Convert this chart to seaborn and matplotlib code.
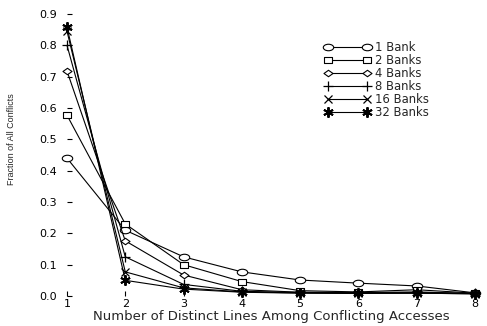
import matplotlib
matplotlib.use("Agg")
import matplotlib.pyplot as plt
from matplotlib.path import Path
from matplotlib.transforms import Affine2D
import seaborn as sns
import pandas as pd

# Distinct lines among conflicting accesses
lines = [1, 2, 3, 4, 5, 6, 7, 8]

bank_1 = [0.440, 0.210, 0.125, 0.077, 0.051, 0.041, 0.032, 0.010]
bank_2 = [0.577, 0.230, 0.100, 0.046, 0.017, 0.013, 0.020, 0.009]
bank_4 = [0.718, 0.176, 0.067, 0.020, 0.012, 0.011, 0.013, 0.008]
bank_8 = [0.800, 0.125, 0.037, 0.015, 0.011, 0.010, 0.011, 0.008]
bank_16 = [0.845, 0.077, 0.026, 0.013, 0.010, 0.009, 0.009, 0.007]
bank_32 = [0.858, 0.050, 0.022, 0.012, 0.009, 0.008, 0.009, 0.007]

labels = ["1 Bank", "2 Banks", "4 Banks", "8 Banks", "16 Banks", "32 Banks"]
series = [bank_1, bank_2, bank_4, bank_8, bank_16, bank_32]

y_ticks = [0.0, 0.1, 0.2, 0.3, 0.4, 0.5, 0.6, 0.7, 0.8, 0.9]

# Wide (flattened) open markers
ellipse = Path.unit_circle().transformed(Affine2D().scale(1.6, 1.0))
rect = Path.unit_rectangle().transformed(Affine2D().translate(-0.5, -0.5).scale(1.25, 1.0))
diamond = Path.unit_regular_polygon(4).transformed(Affine2D().scale(1.4, 1.0))
markers = [ellipse, rect, diamond, "+", "x", (6, 2, 0)]
msizes = [7.5, 6.0, 6.5, 7.5, 5.5, 7.5]
medge = [0.8, 0.8, 0.8, 0.9, 0.9, 1.4]

df = pd.DataFrame(
    [(x, v, lab) for lab, vals in zip(labels, series) for x, v in zip(lines, vals)],
    columns=["lines", "fraction", "banks"],
)

sns.set_style("white")
plt.rcParams["font.family"] = ["DejaVu Sans"]

fig = plt.figure(figsize=(4.87, 3.26), dpi=100)
ax = fig.add_axes([67 / 487, 1 - 296 / 326, 408 / 487, 282 / 326])

for lab, mk, ms, mew in zip(labels, markers, msizes, medge):
    sub = df[df["banks"] == lab]
    sns.lineplot(
        data=sub, x="lines", y="fraction", ax=ax, label=lab,
        color="black", linewidth=0.8, marker=mk, markersize=ms,
        markerfacecolor="white", markeredgecolor="black",
        markeredgewidth=mew, clip_on=False,
    )

ax.set_xlim(1, 8)
ax.set_ylim(0, 0.9)
ax.set_xticks(lines)
ax.set_yticks(y_ticks)
ax.set_yticklabels([f"{t:.1f}" for t in y_ticks])
for s in ax.spines.values():
    s.set_visible(False)
ax.tick_params(axis="both", direction="in", length=3.5, width=0.8,
               color="black", labelsize=8, labelcolor="black",
               bottom=True, left=True)
ax.tick_params(axis="y", pad=7)
ax.tick_params(axis="x", pad=2)

ax.set_xlabel("Number of Distinct Lines Among Conflicting Accesses",
              fontsize=9.5, labelpad=1)
ax.set_ylabel("Fraction of All Conflicts", fontsize=6.5,
              family=["Liberation Sans Narrow", "Liberation Sans"])
ax.yaxis.set_label_coords(-0.125, 0.555)

leg = ax.legend(loc="upper left", bbox_to_anchor=(0.63, 0.905), frameon=False,
                numpoints=2, handlelength=4.0, handletextpad=0.35,
                labelspacing=0.0, fontsize=8.4, borderaxespad=0,
                borderpad=0)

fig.savefig("out.png", dpi=100)
